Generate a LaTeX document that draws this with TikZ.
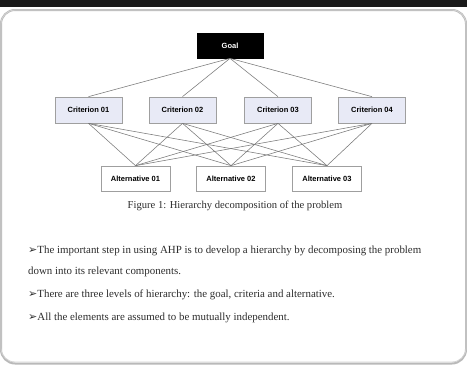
\documentclass[tikz,border=0pt]{standalone}
\usepackage{fontspec}
\setmainfont{Liberation Serif}
\newfontfamily\boxfont{Liberation Sans}
\newfontfamily\symfont{DejaVu Sans}
\definecolor{critfill}{RGB}{232,234,246}
\definecolor{edgegray}{RGB}{120,120,120}
\definecolor{txt}{RGB}{45,45,45}
\newcommand{\arrbullet}{{\symfont\fontsize{11}{12}\selectfont ➢}}
\begin{document}
\begin{tikzpicture}[x=1pt,y=-1pt,
  box/.style={draw=gray!75,line width=0.7pt,inner sep=0pt,font=\boxfont\bfseries\fontsize{7.5}{9}\selectfont},
  goalbox/.style={box,fill=black,draw=black,text=white,minimum width=66pt,minimum height=25pt},
  critbox/.style={box,fill=critfill,minimum width=67pt,minimum height=26pt},
  altbox/.style={box,fill=white,minimum width=69pt,minimum height=25pt},
  link/.style={draw=edgegray,line width=0.55pt},
  bodytext/.style={anchor=base west,inner sep=0pt,text=txt,font=\fontsize{10.9}{12}\selectfont},
  captext/.style={anchor=base,inner sep=0pt,text=txt,font=\fontsize{10.6}{12}\selectfont}
]
\useasboundingbox (0,0) rectangle (467,367);
\fill[white] (0,0) rectangle (467,367);
% top black bar
\fill[black!90] (0,0) rectangle (467,7);
% frame
\draw[gray!55,line width=2pt,rounded corners=14pt] (1,10) rectangle (466,363.5);
\draw[gray!35,line width=0.8pt,rounded corners=14pt] (1,10) rectangle (466,362);

% nodes
\node[goalbox] (goal) at (230,45.5) {Goal};
\node[critbox] (c1) at (88.5,110) {Criterion 01};
\node[critbox] (c2) at (182.5,110) {Criterion 02};
\node[critbox] (c3) at (278,110) {Criterion 03};
\node[critbox] (c4) at (372,110) {Criterion 04};
\node[altbox] (a1) at (135.5,178.5) {Alternative 01};
\node[altbox] (a2) at (231,178.5) {Alternative 02};
\node[altbox] (a3) at (327,178.5) {Alternative 03};

% connectors
\foreach \c in {c1,c2,c3,c4} {
  \draw[link] (goal.south) -- (\c.north);
  \foreach \a in {a1,a2,a3} {
    \draw[link] (\c.south) -- (\a.north);
  }
}

% caption and text
\node[captext] (cap) at (235,208.5) {Figure 1: Hierarchy decomposition of the problem};
\node[bodytext] (l1) at (28,253.5) {\arrbullet The important step in using AHP is to develop a hierarchy by decomposing the problem};
\node[bodytext] (l2) at (28,274) {down into its relevant components.};
\node[bodytext] (l3) at (28,297) {\arrbullet There are three levels of hierarchy: the goal, criteria and alternative.};
\node[bodytext] (l4) at (28,320) {\arrbullet All the elements are assumed to be mutually independent.};
\end{tikzpicture}
\end{document}
